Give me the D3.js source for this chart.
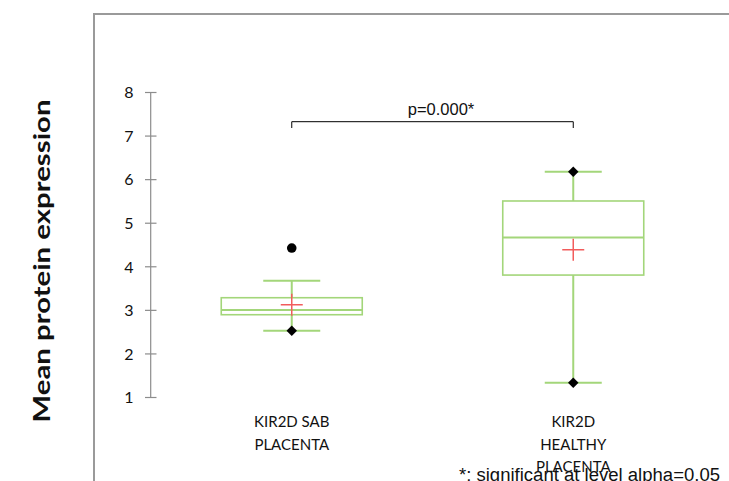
<!DOCTYPE html>
<html>
<head>
<meta charset="utf-8">
<script src="https://cdn.jsdelivr.net/npm/d3@7"></script>
<style>
  html, body { margin: 0; padding: 0; background: #fff; }
  svg { display: block; }
</style>
</head>
<body>
<svg id="chart" width="729" height="481"></svg>
<script>
// Box plot summaries for KIR2D protein expression in two placenta groups
const categories = ["KIR2D SAB|PLACENTA", "KIR2D|HEALTHY|PLACENTA"];
const whiskerLow = [2.53, 1.34];
const q1 = [2.90, 3.81];
const medians = [3.01, 4.67];
const q3 = [3.29, 5.51];
const whiskerHigh = [3.68, 6.18];
const means = [3.13, 4.39];
// Extreme points: minimum / maximum observations drawn as diamonds
const minPoints = [2.53, 1.34];
const maxPoints = [null, 6.18];
// Outlying observations drawn as round dots
const outliers = [[4.43], []];
const yTicks = [1, 2, 3, 4, 5, 6, 7, 8];
const pLabel = "p=0.000*";
const footnote = "*: significant at level alpha=0.05";
const yTitle = "Mean protein expression";

const svg = d3.select("#chart");
const green = "#a3d67a";
const labelFont = "Lato, 'Open Sans', sans-serif";

// Outer frame (continues past the right and bottom edges)
svg.append("path")
  .attr("d", "M94,490 L94,14 L740,14")
  .attr("fill", "none")
  .attr("stroke", "#9a9a9a")
  .attr("stroke-width", 2);

const x = d3.scalePoint().domain(categories).range([151, 714]).padding(0.5);
const y = d3.scaleLinear().domain([1, 8]).range([397.5, 92.5]);

// Y axis with ticks crossing the axis line
const yAxis = svg.append("g");
yAxis.append("line")
  .attr("x1", 150.7).attr("x2", 150.7)
  .attr("y1", y(1)).attr("y2", y(8))
  .attr("stroke", "#8c8c8c").attr("stroke-width", 1.2);
yAxis.selectAll("line.tick").data(yTicks).join("line")
  .attr("class", "tick")
  .attr("x1", 145).attr("x2", 156.5)
  .attr("y1", d => y(d)).attr("y2", d => y(d))
  .attr("stroke", "#8c8c8c").attr("stroke-width", 1.2);
yAxis.selectAll("text").data(yTicks).join("text")
  .attr("x", 133.5)
  .attr("y", d => y(d))
  .attr("dy", "0.36em")
  .attr("text-anchor", "end")
  .attr("font-family", labelFont)
  .attr("font-size", 16)
  .attr("fill", "#111")
  .text(d => d);

// Y title
svg.append("text")
  .attr("transform", "translate(50,261) rotate(-90)")
  .attr("text-anchor", "middle")
  .attr("font-family", labelFont)
  .attr("font-weight", "bold")
  .attr("font-size", 22)
  .attr("textLength", 323)
  .attr("lengthAdjust", "spacingAndGlyphs")
  .attr("fill", "#111")
  .text(yTitle);

// Category labels, multi-line
categories.forEach((c, i) => {
  const lines = c.split("|");
  const t = svg.append("text")
    .attr("text-anchor", "middle")
    .attr("font-family", labelFont)
    .attr("font-size", 15)
    .attr("fill", "#111");
  lines.forEach((ln, j) => {
    t.append("tspan")
      .attr("x", x(c))
      .attr("y", 427 + j * 22.5)
      .text(ln);
  });
});

const boxHalf = 70.5;
const capHalf = 28.5;

const groups = svg.selectAll("g.box").data(categories).join("g").attr("class", "box");

groups.each(function(c, i) {
  const g = d3.select(this);
  const cx = x(c);
  // whisker stems
  g.append("line").attr("x1", cx).attr("x2", cx)
    .attr("y1", y(whiskerHigh[i])).attr("y2", y(q3[i]))
    .attr("stroke", green).attr("stroke-width", 2);
  g.append("line").attr("x1", cx).attr("x2", cx)
    .attr("y1", y(q1[i])).attr("y2", y(whiskerLow[i]))
    .attr("stroke", green).attr("stroke-width", 2);
  // whisker caps
  [whiskerHigh[i], whiskerLow[i]].forEach(v => {
    g.append("line").attr("x1", cx - capHalf).attr("x2", cx + capHalf)
      .attr("y1", y(v)).attr("y2", y(v))
      .attr("stroke", green).attr("stroke-width", 2);
  });
  // box
  g.append("rect")
    .attr("x", cx - boxHalf).attr("width", boxHalf * 2)
    .attr("y", y(q3[i])).attr("height", y(q1[i]) - y(q3[i]))
    .attr("fill", "none").attr("stroke", green).attr("stroke-width", 1.6);
  // median
  g.append("line").attr("x1", cx - boxHalf).attr("x2", cx + boxHalf)
    .attr("y1", y(medians[i])).attr("y2", y(medians[i]))
    .attr("stroke", green).attr("stroke-width", 2);
  // mean marker
  const my = y(means[i]);
  g.append("path")
    .attr("d", `M${cx - 11},${my} H${cx + 11} M${cx},${my - 11} V${my + 11}`)
    .attr("stroke", "#f25c5c").attr("stroke-width", 1.5).attr("fill", "none");
  // min / max diamonds
  [minPoints[i], maxPoints[i]].forEach(v => {
    if (v == null) return;
    g.append("path")
      .attr("d", d3.symbol(d3.symbolDiamond2, 70)())
      .attr("transform", `translate(${cx},${y(v)})`)
      .attr("fill", "#000");
  });
  // outliers
  outliers[i].forEach(v => {
    g.append("circle").attr("cx", cx).attr("cy", y(v)).attr("r", 4.8).attr("fill", "#000");
  });
});

// Significance bracket
const bx1 = x(categories[0]), bx2 = x(categories[1]);
svg.append("path")
  .attr("d", `M${bx1},128 V121.7 H${bx2} V128`)
  .attr("fill", "none").attr("stroke", "#000").attr("stroke-width", 1);
svg.append("text")
  .attr("x", 441).attr("y", 115)
  .attr("text-anchor", "middle")
  .attr("font-family", "'Liberation Sans', Arial, sans-serif")
  .attr("font-size", 16.5)
  .attr("fill", "#111")
  .text(pLabel);

// Footnote
svg.append("text")
  .attr("x", 459).attr("y", 481)
  .attr("font-family", "'Liberation Sans', Arial, sans-serif")
  .attr("font-size", 18)
  .attr("textLength", 261)
  .attr("lengthAdjust", "spacingAndGlyphs")
  .attr("fill", "#111")
  .text(footnote);
</script>
</body>
</html>
